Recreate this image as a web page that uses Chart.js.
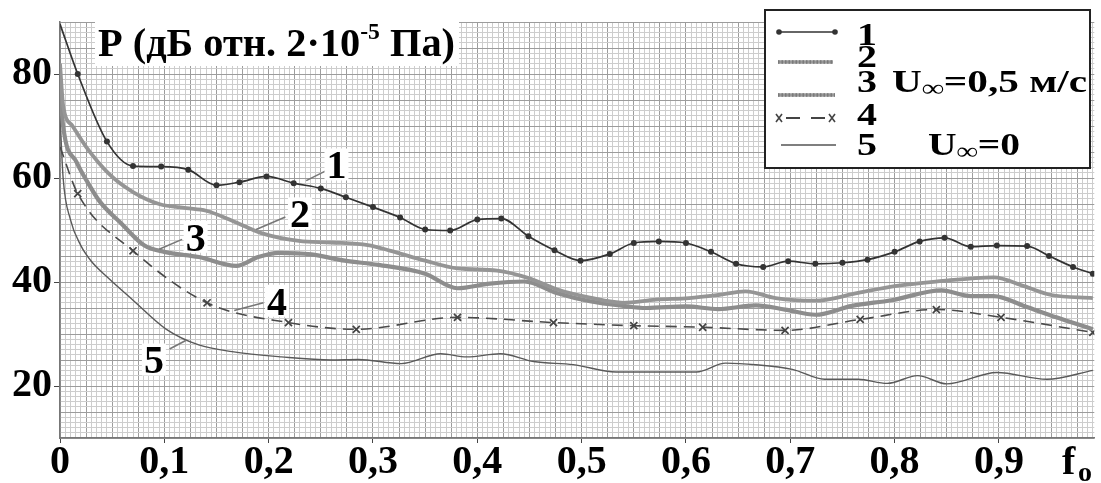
<!DOCTYPE html>
<html><head><meta charset="utf-8">
<script src="https://cdn.jsdelivr.net/npm/chart.js@4"></script>
<style>html,body{margin:0;padding:0;background:#fff;overflow:hidden}#wrap{width:1101px;height:483px}</style>
</head><body><div id="wrap"><canvas id="c" width="1101" height="483"></canvas></div>
<script>
// ---------- data ----------
const xLabelValues = [0, 0.1, 0.2, 0.3, 0.4, 0.5, 0.6, 0.7, 0.8, 0.9];
const xLabelTexts  = ['0', '0,1', '0,2', '0,3', '0,4', '0,5', '0,6', '0,7', '0,8', '0,9'];
const yLabelValues = [20, 40, 60, 80];

// curve 1 (U∞ = 0,5 м/с, line with dots)
const curve1 = [[0,89.6],[0.017,80],[0.045,67],[0.070,62.3],[0.097,62.2],[0.123,61.6],[0.150,58.6],[0.172,59.2],[0.198,60.3],[0.224,59],[0.25,58],[0.274,56.3],[0.30,54.4],[0.326,52.4],[0.35,50.1],[0.374,49.9],[0.40,52],[0.423,52.2],[0.449,48.8],[0.474,46.1],[0.499,44.1],[0.527,45.4],[0.55,47.5],[0.574,47.8],[0.60,47.5],[0.624,45.8],[0.648,43.5],[0.674,42.9],[0.698,44],[0.724,43.5],[0.75,43.7],[0.774,44.3],[0.80,45.8],[0.824,47.8],[0.848,48.5],[0.873,46.8],[0.898,47],[0.927,46.9],[0.948,45],[0.971,42.9],[0.99,41.6]];
// curve 2 (thick gray, upper)
const curve2 = [[0,82],[0.003,74],[0.012,70],[0.025,66],[0.048,60.6],[0.07,57.3],[0.095,55],[0.121,54.2],[0.14,53.7],[0.165,51.8],[0.193,49.4],[0.229,47.9],[0.26,47.6],[0.295,47.1],[0.317,46],[0.35,44.1],[0.381,42.6],[0.419,42.2],[0.45,40.7],[0.476,38.6],[0.508,37],[0.54,36],[0.571,36.6],[0.603,36.9],[0.631,37.5],[0.657,38.2],[0.686,36.9],[0.724,36.4],[0.765,37.9],[0.8,39.2],[0.841,40.1],[0.895,40.9],[0.924,39.2],[0.95,37.5],[0.99,36.9]];
// curve 3 (thick gray, lower)
const curve3 = [[0,78],[0.003,70],[0.016,63],[0.027,59],[0.038,55.5],[0.059,51.2],[0.081,47],[0.1,45.8],[0.133,44.8],[0.169,43.1],[0.19,44.8],[0.21,45.6],[0.241,45.3],[0.273,44.1],[0.305,43.3],[0.35,41.6],[0.381,38.8],[0.412,39.7],[0.445,40.1],[0.476,37.9],[0.508,36.3],[0.54,35.4],[0.562,35],[0.6,35.3],[0.631,34.8],[0.667,35.5],[0.695,34.7],[0.724,33.7],[0.759,35.4],[0.797,36.5],[0.845,38.4],[0.873,37.3],[0.895,37.3],[0.924,35.4],[0.955,33.2],[0.99,30.9]];
// curve 4 (dashed with crosses)
const curve4 = [[0,66],[0.017,57],[0.07,46],[0.141,36],[0.219,32.2],[0.284,30.9],[0.381,33.2],[0.473,32.2],[0.55,31.6],[0.616,31.3],[0.695,30.7],[0.767,32.8],[0.84,34.7],[0.902,33.2],[0.99,30.3]];
// curve 5 (U∞ = 0, thin line)
const curve5 = [[0,72],[0.003,60],[0.01,52],[0.02,47],[0.03,44],[0.045,41],[0.07,36.5],[0.102,30.9],[0.133,27.9],[0.165,26.6],[0.212,25.6],[0.26,25],[0.286,25.1],[0.327,24.3],[0.365,26.2],[0.39,25.6],[0.422,26.2],[0.454,24.7],[0.492,24.1],[0.533,22.7],[0.61,22.7],[0.638,24.4],[0.667,24.1],[0.702,23.2],[0.733,21.3],[0.765,21.3],[0.793,20.5],[0.822,22],[0.85,20.4],[0.898,22.6],[0.946,21.3],[0.99,23]];

// ---------- styling ----------
const FONT = '"Liberation Serif","Times New Roman",serif';
const FINE = '#cdcdcd', MED = '#9c9c9c';
const X_MAX = 0.9914;
const near = (a, b) => Math.abs(a - b) < 1e-6;
const isMult = (v, s) => { const r = v / s; return Math.abs(r - Math.round(r)) < 1e-6; };
const pts = arr => arr.map(([x, y]) => ({x, y}));

function run(ctx, pieces, x, y, targetW, sy) {
  let W = 0;
  pieces.forEach(p => { ctx.font = `bold ${p.size}px ${FONT}`; p.w = ctx.measureText(p.t).width; W += p.w; });
  const sx = targetW ? targetW / W : 1;
  ctx.save(); ctx.translate(x, y); ctx.scale(sx, sy || 1);
  ctx.textAlign = 'left'; ctx.textBaseline = 'alphabetic'; ctx.fillStyle = '#000';
  let cx = 0;
  pieces.forEach(p => { ctx.font = `bold ${p.size}px ${FONT}`; ctx.fillText(p.t, cx, p.dy || 0); cx += p.w; });
  ctx.restore();
}

const decor = {
  id: 'decor',
  afterDraw(chart) {
    const ctx = chart.ctx, xs = chart.scales.x, ys = chart.scales.y;
    const P = (x, y) => [xs.getPixelForValue(x), ys.getPixelForValue(y)];
    ctx.save();
    // title
    ctx.fillStyle = '#fff'; ctx.fillRect(95, 20, 364, 46);
    run(ctx, [{t:'P (дБ отн. 2·10', size:41}, {t:'-5', size:24, dy:-17}, {t:' Па)', size:41}], 98, 56, 357);
    // curve labels with leaders
    const labels = [
      {t:'1', at:[0.265,62.6], a:[0.236,59.5], b:[0.259,61.8]},
      {t:'2', at:[0.230,53.2], a:[0.188,50.1], b:[0.216,52.5]},
      {t:'3', at:[0.130,48.7], a:[0.095,46.3], b:[0.117,48.2]},
      {t:'4', at:[0.208,36.4], a:[0.167,34.5], b:[0.195,36.0]},
      {t:'5', at:[0.090,25.1], a:[0.105,27.1], b:[0.121,28.8]}
    ];
    labels.forEach(L => {
      const [a1, a2] = P(...L.a), [b1, b2] = P(...L.b);
      ctx.strokeStyle = '#777'; ctx.lineWidth = 1.6;
      ctx.beginPath(); ctx.moveTo(a1, a2); ctx.lineTo(b1, b2); ctx.stroke();
      const [cx, cy] = P(...L.at);
      ctx.fillStyle = '#fff'; ctx.fillRect(cx - 12, cy - 16, 24, 32);
      ctx.font = `bold 40px ${FONT}`; ctx.fillStyle = '#000';
      ctx.textAlign = 'center'; ctx.textBaseline = 'alphabetic';
      ctx.fillText(L.t, cx, cy + 14);
    });
    // legend box
    ctx.fillStyle = '#fff'; ctx.fillRect(765, 10, 325, 158);
    ctx.strokeStyle = '#222'; ctx.lineWidth = 2; ctx.strokeRect(765, 10, 325, 158);
    // sample 1
    ctx.strokeStyle = '#333'; ctx.lineWidth = 1.6;
    ctx.beginPath(); ctx.moveTo(779, 32); ctx.lineTo(835, 32); ctx.stroke();
    ctx.fillStyle = '#333';
    ctx.beginPath(); ctx.arc(779, 32, 2.8, 0, 7); ctx.fill();
    ctx.beginPath(); ctx.arc(835, 32, 2.8, 0, 7); ctx.fill();
    // samples 2,3
    [[62, 833], [95, 835]].forEach(([y, x2]) => {
      ctx.strokeStyle = '#9a9a9a'; ctx.lineWidth = 3.5;
      ctx.beginPath(); ctx.moveTo(778, y); ctx.lineTo(x2, y); ctx.stroke();
      ctx.strokeStyle = '#7a7a7a'; ctx.lineWidth = 3.5; ctx.setLineDash([1.5, 2]);
      ctx.beginPath(); ctx.moveTo(778, y); ctx.lineTo(x2, y); ctx.stroke();
      ctx.setLineDash([]);
    });
    // sample 4
    ctx.strokeStyle = '#444'; ctx.lineWidth = 1.6;
    const cross = (x, y) => { ctx.beginPath(); ctx.moveTo(x-3, y-4); ctx.lineTo(x+3, y+4); ctx.moveTo(x+3, y-4); ctx.lineTo(x-3, y+4); ctx.stroke(); };
    cross(779, 118); cross(832, 118);
    ctx.lineWidth = 2;
    ctx.beginPath(); ctx.moveTo(786, 118); ctx.lineTo(800, 118); ctx.moveTo(811, 118); ctx.lineTo(825, 118); ctx.stroke();
    // sample 5
    ctx.strokeStyle = '#555'; ctx.lineWidth = 1.6;
    ctx.beginPath(); ctx.moveTo(781, 145); ctx.lineTo(836, 145); ctx.stroke();
    // legend texts
    [['1', 45], ['2', 67], ['3', 92], ['4', 125], ['5', 155]].forEach(([t, y]) => {
      ctx.save(); ctx.translate(867, y); ctx.scale(1, 0.8);
      ctx.font = `bold 40px ${FONT}`; ctx.fillStyle = '#000'; ctx.textAlign = 'center'; ctx.textBaseline = 'alphabetic';
      ctx.fillText(t, 0, 0); ctx.restore();
    });
    run(ctx, [{t:'U', size:40}, {t:'∞', size:30, dy:5}, {t:'=0,5 м/с', size:40}], 892, 92, 195, 0.8);
    run(ctx, [{t:'U', size:40}, {t:'∞', size:30, dy:5}, {t:'=0', size:40}], 928, 155, 92, 0.8);
    // axis name f_o
    run(ctx, [{t:'f', size:40}], 1062, 474);
    run(ctx, [{t:'o', size:28}], 1078, 481);
    ctx.restore();
  }
};

new Chart(document.getElementById('c'), {
  type: 'line',
  data: {
    datasets: [
      {label:'1', data: pts(curve1), borderColor:'#333', borderWidth:1.7, tension:0.4, cubicInterpolationMode:'monotone',
       pointRadius: c => c.dataIndex === 0 ? 0 : 3, pointBackgroundColor:'#333', pointBorderColor:'#333', pointBorderWidth:0},
      {label:'2', data: pts(curve2), borderColor:'#959595', borderWidth:3.8, tension:0.4, cubicInterpolationMode:'monotone', pointRadius:0},
      {label:'3', data: pts(curve3), borderColor:'#8d8d8d', borderWidth:4.2, tension:0.4, cubicInterpolationMode:'monotone', pointRadius:0},
      {label:'4', data: pts(curve4), borderColor:'#4a4a4a', borderWidth:1.6, borderDash:[11,7], tension:0.4, cubicInterpolationMode:'monotone',
       pointStyle:'crossRot', pointRadius: c => c.dataIndex === 0 ? 0 : 5, pointBorderColor:'#444', pointBorderWidth:1.7},
      {label:'5', data: pts(curve5), borderColor:'#5a5a5a', borderWidth:1.4, tension:0.4, cubicInterpolationMode:'monotone', pointRadius:0}
    ]
  },
  options: {
    responsive: false, animation: false, devicePixelRatio: 1,
    layout: {padding: {top: 13, right: 0, left: 0, bottom: 0}},
    plugins: {legend: {display: false}, tooltip: {enabled: false}},
    scales: {
      x: {
        type: 'linear', min: 0, max: X_MAX,
        afterFit: s => { s.height = 45; },
        border: {color: '#777', width: 1.5},
        grid: {
          color: c => isMult(c.tick.value, 0.025) ? MED : FINE,
          lineWidth: 1, tickLength: 5,
          tickColor: c => xLabelValues.some(v => near(v, c.tick.value)) ? '#444' : 'rgba(0,0,0,0)'
        },
        ticks: {
          stepSize: 0.005, maxTicksLimit: 1000, autoSkip: false, maxRotation: 0, minRotation: 0, includeBounds: false,
          color: '#000', padding: 0,
          font: {family: FONT, size: 40, weight: 'bold', lineHeight: 1},
          callback: v => { const i = xLabelValues.findIndex(t => near(t, v)); return i >= 0 ? xLabelTexts[i] : ''; }
        }
      },
      y: {
        type: 'linear', min: 10, max: 90,
        afterFit: s => { s.width = 60; },
        border: {color: '#777', width: 1.5},
        grid: {
          color: c => isMult(c.tick.value, 5) ? MED : FINE,
          lineWidth: 1, tickLength: 6,
          tickColor: c => yLabelValues.includes(Math.round(c.tick.value)) && near(c.tick.value, Math.round(c.tick.value)) ? '#444' : 'rgba(0,0,0,0)'
        },
        ticks: {
          stepSize: 1, maxTicksLimit: 1000, autoSkip: false, color: '#000', padding: 2,
          font: {family: FONT, size: 40, weight: 'bold', lineHeight: 1},
          callback: v => yLabelValues.some(t => near(t, v)) ? String(v) : ''
        }
      }
    }
  },
  plugins: [decor]
});
</script>
</body></html>
